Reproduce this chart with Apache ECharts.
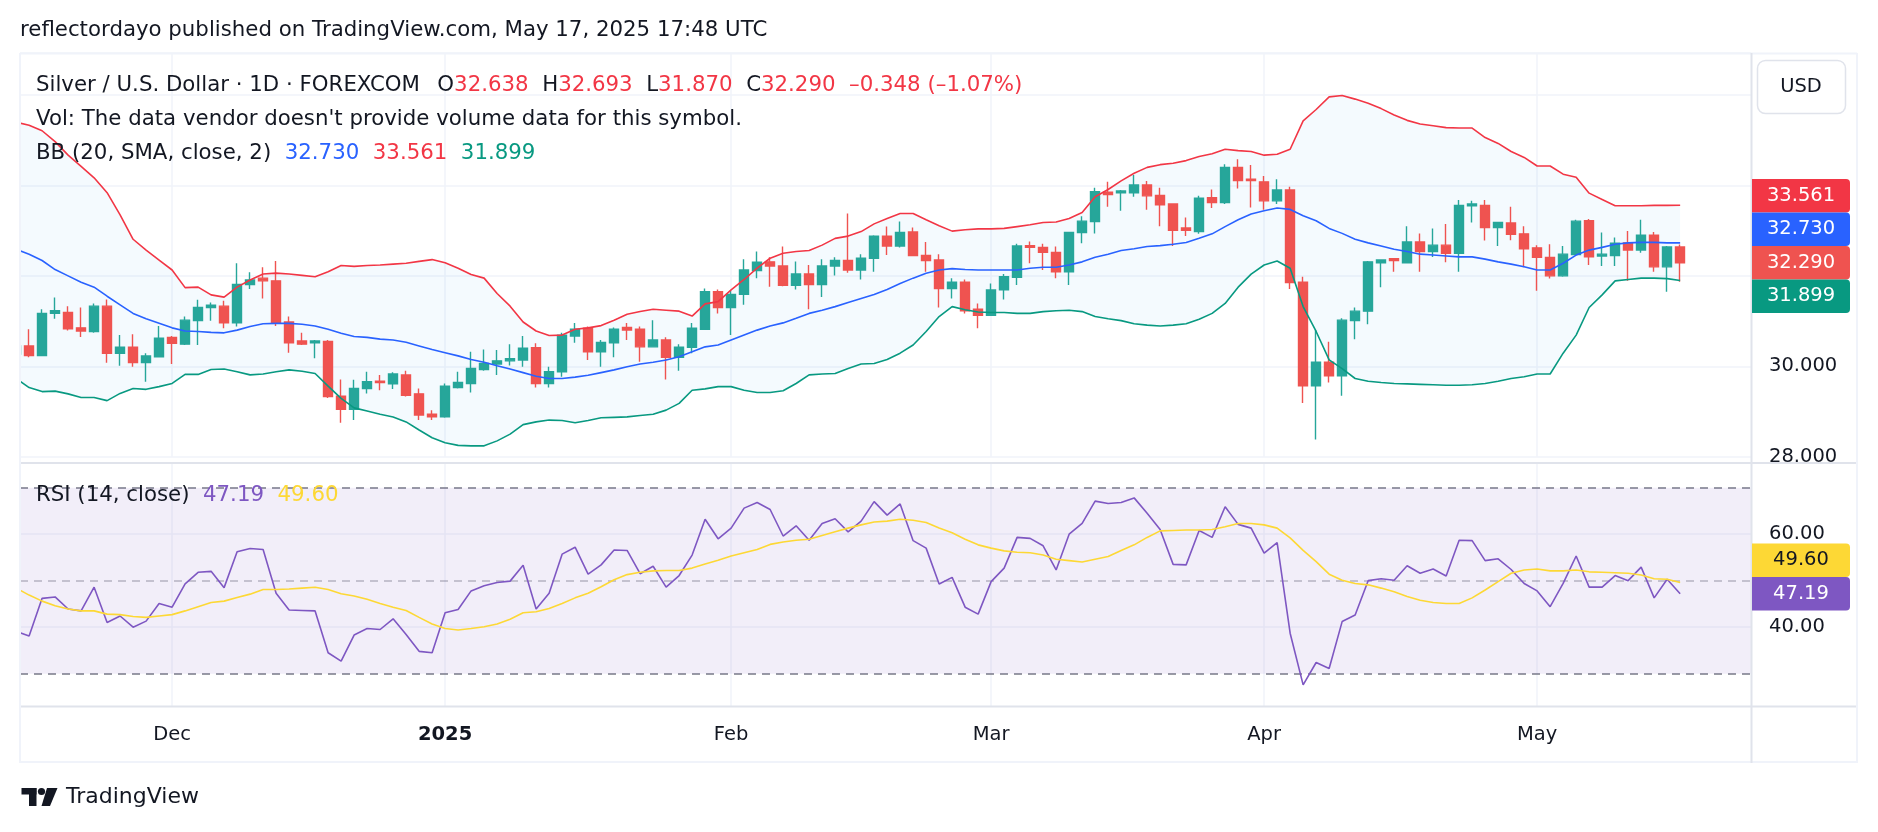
<!DOCTYPE html>
<html>
<head>
<meta charset="utf-8">
<title>Silver / U.S. Dollar · 1D · FOREXCOM</title>
<script src="https://cdn.jsdelivr.net/npm/echarts@6/dist/echarts.min.js"></script>
<style>
  html, body { margin: 0; padding: 0; background: #ffffff; }
  #chart { width: 1878px; height: 832px; }
</style>
</head>
<body>
<div id="chart"></div>
<script>
// daily bars, 14 Nov 2024 .. 16 May 2025 : [open, high, low, close]
const candles = [
  [30.27, 30.60, 30.10, 30.45], [30.45, 30.82, 30.20, 30.24], [30.24, 31.26, 30.22, 31.17], [31.17, 31.52, 31.05, 31.23],
  [31.19, 31.33, 30.79, 30.83], [30.85, 31.30, 30.65, 30.78], [30.77, 31.39, 30.74, 31.33], [31.33, 31.48, 30.08, 30.29],
  [30.29, 30.69, 30.01, 30.42], [30.42, 30.71, 29.99, 30.08], [30.08, 30.29, 29.66, 30.23], [30.21, 30.89, 30.20, 30.62],
  [30.64, 30.67, 30.05, 30.51], [30.49, 31.10, 30.47, 31.02], [31.01, 31.47, 30.47, 31.30], [31.30, 31.41, 31.01, 31.35],
  [31.33, 31.45, 30.84, 30.96], [30.96, 32.28, 30.88, 31.81], [31.81, 32.08, 31.71, 31.91], [31.95, 32.19, 31.50, 31.89],
  [31.89, 32.33, 30.89, 30.95], [30.98, 31.10, 30.30, 30.52], [30.56, 30.74, 30.47, 30.49], [30.52, 30.58, 30.18, 30.56],
  [30.55, 30.58, 29.30, 29.33], [29.34, 29.71, 28.75, 29.05], [29.05, 29.70, 28.81, 29.51], [29.51, 29.88, 29.40, 29.66],
  [29.67, 29.81, 29.47, 29.64], [29.61, 29.87, 29.50, 29.83], [29.81, 29.90, 29.33, 29.36], [29.39, 29.51, 28.81, 28.92],
  [28.94, 29.03, 28.81, 28.88], [28.88, 29.62, 28.86, 29.56], [29.53, 29.88, 29.51, 29.64], [29.62, 30.32, 29.42, 29.95],
  [29.93, 30.37, 29.90, 30.06], [30.05, 30.36, 29.81, 30.12], [30.12, 30.49, 30.02, 30.17], [30.14, 30.67, 29.99, 30.40],
  [30.41, 30.51, 29.53, 29.62], [29.62, 29.99, 29.53, 29.88], [29.88, 30.74, 29.77, 30.69], [30.67, 30.96, 30.52, 30.82],
  [30.84, 30.88, 30.14, 30.32], [30.32, 30.58, 29.99, 30.53], [30.52, 30.86, 30.20, 30.82], [30.86, 30.96, 30.58, 30.80],
  [30.82, 30.88, 30.10, 30.43], [30.43, 31.02, 30.42, 30.58], [30.58, 30.64, 29.71, 30.20], [30.20, 30.49, 29.90, 30.42],
  [30.42, 30.96, 30.29, 30.84], [30.82, 31.72, 30.80, 31.65], [31.65, 31.70, 31.17, 31.30], [31.30, 31.67, 30.69, 31.59],
  [31.59, 32.37, 31.36, 32.13], [32.12, 32.54, 31.95, 32.30], [32.31, 32.41, 31.76, 32.22], [32.22, 32.65, 31.77, 31.79],
  [31.79, 32.32, 31.70, 32.04], [32.04, 32.24, 31.26, 31.81], [31.81, 32.37, 31.53, 32.22], [32.22, 32.41, 32.01, 32.34],
  [32.34, 33.38, 32.07, 32.13], [32.13, 32.48, 31.92, 32.39], [32.39, 32.90, 32.09, 32.88], [32.88, 33.09, 32.46, 32.66],
  [32.66, 33.20, 32.63, 32.96], [32.97, 33.07, 32.44, 32.45], [32.45, 32.75, 32.09, 32.34], [32.35, 32.48, 31.30, 31.72],
  [31.72, 31.95, 31.50, 31.86], [31.86, 31.92, 31.17, 31.23], [31.26, 31.39, 30.84, 31.13], [31.13, 31.83, 31.11, 31.69],
  [31.69, 32.04, 31.48, 31.98], [31.97, 32.71, 31.80, 32.66], [32.67, 32.76, 32.28, 32.63], [32.63, 32.71, 32.13, 32.52],
  [32.52, 32.65, 31.95, 32.09], [32.09, 32.97, 31.80, 32.96], [32.96, 33.32, 32.72, 33.21], [33.20, 33.95, 32.94, 33.86],
  [33.85, 34.08, 33.53, 33.80], [33.84, 33.90, 33.44, 33.88], [33.84, 34.23, 33.75, 34.01], [34.01, 34.10, 33.46, 33.77],
  [33.78, 33.95, 33.10, 33.57], [33.59, 33.60, 32.66, 33.01], [33.06, 33.29, 32.88, 33.01], [32.98, 33.77, 32.93, 33.72],
  [33.73, 33.91, 33.50, 33.62], [33.62, 34.47, 33.59, 34.40], [34.40, 34.58, 33.93, 34.11], [34.14, 34.45, 33.51, 34.11],
  [34.08, 34.21, 33.46, 33.66], [33.66, 34.14, 33.59, 33.90], [33.90, 33.97, 31.71, 31.85], [31.86, 31.98, 29.19, 29.57],
  [29.57, 30.80, 28.38, 30.09], [30.09, 30.54, 29.64, 29.79], [29.79, 31.06, 29.35, 31.02], [31.01, 31.30, 30.60, 31.22],
  [31.22, 32.33, 30.93, 32.31], [32.29, 32.37, 31.75, 32.35], [32.38, 32.39, 32.09, 32.34], [32.29, 33.10, 32.28, 32.75],
  [32.75, 32.94, 32.09, 32.54], [32.54, 33.05, 32.42, 32.68], [32.68, 33.15, 32.30, 32.50], [32.50, 33.68, 32.09, 33.56],
  [33.55, 33.66, 33.18, 33.59], [33.56, 33.68, 32.78, 33.07], [33.07, 33.19, 32.66, 33.18], [33.17, 33.53, 32.79, 32.92],
  [32.93, 33.10, 32.19, 32.60], [32.62, 32.68, 31.67, 32.41], [32.41, 32.70, 31.94, 32.00], [32.00, 32.66, 31.98, 32.48],
  [32.47, 33.24, 32.45, 33.21], [33.22, 33.26, 32.24, 32.42], [32.44, 32.96, 32.22, 32.48], [32.45, 32.85, 32.22, 32.72],
  [32.73, 32.99, 31.89, 32.57], [32.57, 33.24, 32.51, 32.90], [32.90, 32.97, 32.09, 32.20], [32.20, 32.66, 31.65, 32.638],
  [32.638, 32.693, 31.870, 32.290]
];

// Bollinger Bands (20, SMA, close, 2), read per bar
const bbUpper = [
  35.40, 35.33, 35.21, 34.97, 34.67, 34.42, 34.17, 33.84, 33.35, 32.81, 32.57, 32.35, 32.13, 31.74, 31.75, 31.58,
  31.53, 31.75, 31.91, 32.04, 32.06, 32.04, 32.01, 31.98, 32.09, 32.23, 32.21, 32.23, 32.24, 32.26, 32.28, 32.32,
  32.36, 32.29, 32.17, 32.03, 31.95, 31.61, 31.33, 30.98, 30.78, 30.68, 30.69, 30.82, 30.85, 30.90, 31.02, 31.15,
  31.21, 31.26, 31.24, 31.22, 31.11, 31.38, 31.43, 31.69, 31.92, 32.17, 32.39, 32.50, 32.54, 32.56, 32.68, 32.83,
  32.88, 32.98, 33.15, 33.27, 33.38, 33.38, 33.24, 33.11, 32.99, 33.02, 33.04, 33.04, 33.05, 33.09, 33.13, 33.18,
  33.19, 33.27, 33.40, 33.75, 33.91, 34.10, 34.27, 34.40, 34.46, 34.49, 34.55, 34.64, 34.70, 34.80, 34.77, 34.75,
  34.67, 34.69, 34.80, 35.43, 35.68, 35.96, 35.99, 35.91, 35.82, 35.70, 35.56, 35.44, 35.36, 35.32, 35.28, 35.27,
  35.27, 35.06, 34.93, 34.75, 34.62, 34.43, 34.43, 34.25, 34.18, 33.83, 33.69, 33.55, 33.55, 33.55, 33.56, 33.56,
  33.561
];
const bbBasis = [
  32.59, 32.48, 32.34, 32.14, 32.00, 31.86, 31.75, 31.55, 31.36, 31.17, 31.05, 30.95, 30.85, 30.78, 30.77, 30.75,
  30.74, 30.80, 30.88, 30.94, 30.95, 30.95, 30.93, 30.89, 30.82, 30.73, 30.66, 30.64, 30.60, 30.58, 30.53, 30.45,
  30.37, 30.30, 30.23, 30.15, 30.09, 30.01, 29.94, 29.86, 29.78, 29.73, 29.73, 29.76, 29.80, 29.86, 29.92, 29.99,
  30.05, 30.09, 30.14, 30.21, 30.32, 30.43, 30.47, 30.58, 30.69, 30.80, 30.89, 30.96, 31.06, 31.17, 31.24, 31.32,
  31.41, 31.50, 31.59, 31.70, 31.83, 31.95, 32.06, 32.13, 32.16, 32.14, 32.13, 32.13, 32.13, 32.13, 32.17, 32.19,
  32.19, 32.24, 32.31, 32.41, 32.48, 32.56, 32.60, 32.65, 32.67, 32.70, 32.74, 32.83, 32.93, 33.09, 33.24, 33.37,
  33.44, 33.50, 33.47, 33.33, 33.22, 33.05, 32.94, 32.81, 32.73, 32.66, 32.59, 32.54, 32.48, 32.46, 32.44, 32.42,
  32.42, 32.37, 32.31, 32.26, 32.20, 32.13, 32.13, 32.28, 32.46, 32.57, 32.63, 32.70, 32.73, 32.74, 32.74, 32.73,
  32.730
];
const bbLower = [
  29.73, 29.53, 29.44, 29.45, 29.39, 29.31, 29.31, 29.24, 29.40, 29.51, 29.49, 29.55, 29.62, 29.82, 29.82, 29.93,
  29.94, 29.88, 29.81, 29.83, 29.88, 29.92, 29.89, 29.84, 29.56, 29.29, 29.08, 29.01, 28.94, 28.88, 28.77, 28.59,
  28.42, 28.31, 28.25, 28.24, 28.24, 28.35, 28.50, 28.71, 28.77, 28.81, 28.80, 28.75, 28.80, 28.86, 28.87, 28.88,
  28.91, 28.94, 29.03, 29.18, 29.47, 29.50, 29.55, 29.55, 29.47, 29.42, 29.42, 29.46, 29.62, 29.81, 29.83, 29.84,
  29.95, 30.05, 30.06, 30.15, 30.29, 30.47, 30.77, 31.10, 31.32, 31.25, 31.20, 31.19, 31.19, 31.17, 31.17, 31.21,
  31.23, 31.24, 31.21, 31.10, 31.05, 31.01, 30.94, 30.91, 30.89, 30.91, 30.94, 31.04, 31.17, 31.39, 31.75, 32.04,
  32.24, 32.33, 32.17, 31.32, 30.77, 30.14, 29.95, 29.73, 29.67, 29.64, 29.62, 29.61, 29.60, 29.59, 29.58, 29.58,
  29.59, 29.62, 29.67, 29.73, 29.77, 29.83, 29.83, 30.29, 30.69, 31.30, 31.58, 31.89, 31.92, 31.95, 31.95, 31.94,
  31.899
];

// RSI (14, close) and its moving average
const rsi = [
  39.1, 38.1, 46.2, 46.5, 43.9, 43.5, 48.6, 41.0, 42.4, 40.0, 41.3, 45.1, 44.3, 49.3, 51.8, 52.0,
  48.5, 56.2, 56.9, 56.7, 47.3, 43.7, 43.6, 43.5, 34.5, 32.7, 38.3, 39.7, 39.5, 41.8, 38.4, 34.8,
  34.5, 43.1, 43.8, 47.8, 48.9, 49.6, 49.9, 53.3, 43.9, 47.3, 55.7, 57.2, 51.4, 53.4, 56.6, 56.5,
  51.5, 53.1, 48.6, 51.1, 55.5, 63.2, 59.0, 61.3, 65.6, 66.8, 65.3, 59.6, 61.8, 58.7, 62.3, 63.3,
  60.5, 62.8, 67.0, 64.1, 66.5, 58.6, 57.0, 49.3, 50.7, 44.3, 42.8, 49.8, 52.7, 59.3, 59.1, 57.5,
  52.3, 60.0, 62.3, 67.1, 66.6, 66.8, 67.8, 64.5, 61.0, 53.5, 53.4, 60.8, 59.3, 65.9, 62.1, 61.3,
  55.9, 58.2, 38.7, 27.6, 32.4, 31.1, 41.2, 42.6, 50.0, 50.4, 50.1, 53.2, 51.6, 52.5, 51.0, 58.7,
  58.6, 54.3, 54.7, 52.4, 49.4, 47.8, 44.4, 49.4, 55.3, 48.6, 48.6, 51.1, 50.0, 52.9, 46.3, 50.3,
  47.19
];
const rsiMa = [
  48.4, 46.9, 45.6, 44.6, 43.9, 43.5, 43.5, 42.8, 42.7, 42.3, 42.1, 42.4, 42.7, 43.5, 44.4, 45.3,
  45.6, 46.4, 47.1, 48.1, 48.1, 48.2, 48.4, 48.6, 48.1, 47.2, 46.7, 46.0, 45.1, 44.3, 43.6, 42.1,
  40.7, 39.7, 39.4, 39.7, 40.1, 40.7, 41.7, 43.1, 43.3, 44.0, 45.1, 46.3, 47.3, 48.7, 50.2, 51.3,
  51.8, 52.1, 52.2, 52.2, 52.7, 53.6, 54.4, 55.3, 56.0, 56.7, 57.8, 58.3, 58.7, 58.9, 59.7, 60.5,
  61.3, 62.0, 62.6, 62.8, 63.2, 63.0, 62.5, 61.3, 60.3, 58.9, 57.7, 57.0, 56.4, 56.1, 56.0, 55.5,
  54.6, 54.3, 54.0, 54.6, 55.2, 56.5, 57.7, 59.3, 60.7, 60.8, 60.9, 60.9, 61.0, 61.6, 62.3, 62.3,
  62.0, 61.3, 59.2, 56.5, 54.1, 51.4, 50.1, 49.4, 49.1, 48.4, 47.6, 46.6, 45.8, 45.3, 45.1, 45.1,
  46.3, 48.0, 49.8, 51.6, 52.3, 52.5, 52.1, 52.1, 52.3, 51.9, 51.8, 51.7, 51.6, 51.2, 50.4, 50.3,
  49.60
];

// first bar of each month (bar index) and its axis label
const monthTicks = [12, 33, 55, 75, 96, 117];
const monthLabels = ['Dec', '2025', 'Feb', 'Mar', 'Apr', 'May'];
const priceLabels = [28, 30];
const rsiLabels = [40, 60];

const FONT = '"DejaVu Sans", sans-serif';
const TXT = '#131722';
const UP = '#26a69a', DOWN = '#ef5350';
const C_UPPER = '#F23645', C_BASIS = '#2962FF', C_LOWER = '#089981';
const C_RSI = '#7E57C2', C_MA = '#FDD835';
const GRID = '#f0f3fa', BORDER = '#e0e3eb';

const X_MIN = 0.3, X_MAX = 133.45;

const chart = echarts.init(document.getElementById('chart'));

const pairs = arr => arr.map((v, i) => [i, v]);
const vLines = monthTicks.map(v => ({ xAxis: v }));

function line(name, arr, color, axis, z, extra) {
  return Object.assign({
    name: name, type: 'line', xAxisIndex: axis, yAxisIndex: axis,
    data: pairs(arr), showSymbol: false, silent: true, z: z,
    lineStyle: { color: color, width: 1.6 }
  }, extra || {});
}

const last = candles[candles.length - 1];
const prevClose = candles[candles.length - 2][3];
const chg = last[3] - prevClose;
const neg = s => s.replace('-', '\u2013');

const option = {
  animation: false,
  backgroundColor: '#ffffff',
  textStyle: { fontFamily: FONT },
  grid: [
    { left: 20, right: 127, top: 53, height: 403.7 },
    { left: 20, right: 127, top: 463, height: 243 }
  ],
  xAxis: [
    { type: 'value', gridIndex: 0, min: X_MIN, max: X_MAX, show: false },
    {
      type: 'value', gridIndex: 1, min: X_MIN, max: X_MAX,
      axisLine: { show: false }, axisTick: { show: false }, splitLine: { show: false },
      axisLabel: {
        customValues: monthTicks, margin: 19, color: TXT, fontSize: 19.5, fontFamily: FONT,
        formatter: function (v) {
          const k = monthTicks.indexOf(v);
          if (k < 0) return '';
          return monthLabels[k] === '2025' ? '{b|' + monthLabels[k] + '}' : monthLabels[k];
        },
        rich: { b: { fontWeight: 'bold', fontSize: 19.5, fontFamily: FONT, color: TXT } }
      }
    }
  ],
  yAxis: [
    {
      type: 'value', gridIndex: 0, position: 'right', min: 28, max: 36.93, interval: 2,
      axisLine: { show: false }, axisTick: { show: false },
      splitLine: { show: true, lineStyle: { color: GRID, width: 1.5 } },
      axisLabel: { customValues: priceLabels, formatter: v => v.toFixed(3), color: TXT, fontSize: 19.5, fontFamily: FONT, margin: 18 }
    },
    {
      type: 'value', gridIndex: 1, position: 'right', min: 23.05, max: 75.3,
      axisLine: { show: false }, axisTick: { show: false }, splitLine: { show: false },
      axisLabel: { customValues: rsiLabels, formatter: v => v.toFixed(2), color: TXT, fontSize: 19.5, fontFamily: FONT, margin: 18 }
    }
  ],
  series: [
    {
      name: 'bbFill', type: 'custom', xAxisIndex: 0, yAxisIndex: 0, z: 1, silent: true,
      data: [[1, 30]],
      renderItem: function (params, api) {
        const pts = [];
        for (let i = 0; i < bbUpper.length; i++) pts.push(api.coord([i, bbUpper[i]]));
        for (let i = bbLower.length - 1; i >= 0; i--) pts.push(api.coord([i, bbLower[i]]));
        return { type: 'polygon', shape: { points: pts }, style: { fill: 'rgba(33,150,243,0.05)' } };
      }
    },
    {
      name: 'XAGUSD', type: 'candlestick', xAxisIndex: 0, yAxisIndex: 0, z: 3, silent: true,
      barWidth: 10,
      encode: { x: 0, y: [1, 2, 3, 4] },
      data: candles.map((c, i) => [i, c[0], c[3], c[2], c[1]]),
      itemStyle: { color: UP, color0: DOWN, borderColor: UP, borderColor0: DOWN, borderWidth: 1.4 }
    },
    line('BB basis', bbBasis, C_BASIS, 0, 4, {
      markLine: {
        silent: true, symbol: 'none', z: 0, animation: false, label: { show: false },
        lineStyle: { color: GRID, width: 1.5, type: 'solid' },
        data: vLines
      }
    }),
    line('BB upper', bbUpper, C_UPPER, 0, 4),
    line('BB lower', bbLower, C_LOWER, 0, 4),
    line('RSI', rsi, C_RSI, 1, 3, {
      markArea: {
        silent: true, z: 1,
        itemStyle: { color: 'rgba(126,87,194,0.1)' },
        data: [[{ yAxis: 30 }, { yAxis: 70 }]]
      },
      markLine: {
        silent: true, symbol: 'none', z: 0, animation: false, label: { show: false },
        lineStyle: { color: GRID, width: 1.5, type: 'solid' },
        data: vLines.concat(rsiLabels.map(v => ({ yAxis: v })), [
          { yAxis: 70, lineStyle: { color: '#787b86', width: 1.5, type: [8, 6] } },
          { yAxis: 50, lineStyle: { color: 'rgba(120,123,134,0.5)', width: 1.5, type: [8, 6] } },
          { yAxis: 30, lineStyle: { color: '#787b86', width: 1.5, type: [8, 6] } }
        ])
      }
    }),
    line('RSI MA', rsiMa, C_MA, 1, 3)
  ]
};

chart.setOption(option);

// right-scale value tags, stacked the way the price scale does it
function stack(tags, h) {
  const a = tags.findIndex(t => t.anchor);
  for (let k = a - 1; k >= 0; k--) tags[k].y = Math.min(tags[k].y, tags[k + 1].y - h);
  for (let k = a + 1; k < tags.length; k++) tags[k].y = Math.max(tags[k].y, tags[k - 1].y + h);
  return tags;
}
const TAG_H = 33.5;
const lastOf = a => a[a.length - 1];
const priceTags = stack([
  { v: lastOf(bbUpper), bg: C_UPPER, fg: '#ffffff', d: 3 },
  { v: lastOf(bbBasis), bg: C_BASIS, fg: '#ffffff', d: 3 },
  { v: last[3], bg: DOWN, fg: '#ffffff', d: 3, anchor: true },
  { v: lastOf(bbLower), bg: C_LOWER, fg: '#ffffff', d: 3 }
].map(t => Object.assign(t, { y: chart.convertToPixel({ yAxisIndex: 0 }, t.v) })), TAG_H);
const rsiTags = stack([
  { v: lastOf(rsiMa), bg: C_MA, fg: TXT, d: 2 },
  { v: lastOf(rsi), bg: C_RSI, fg: '#ffffff', d: 2, anchor: true }
].map(t => Object.assign(t, { y: chart.convertToPixel({ yAxisIndex: 1 }, t.v) })), TAG_H);

function textEl(text, x, y) {
  return {
    type: 'text', z: 120, silent: true,
    style: { text: text, x: x, y: y, font: '21.3px ' + FONT, fill: TXT, textVerticalAlign: 'middle', verticalAlign: 'middle' }
  };
}
function hline(x1, x2, y, color, w) {
  return { type: 'line', z: 115, silent: true, shape: { x1: x1, y1: y, x2: x2, y2: y }, style: { stroke: color, lineWidth: w } };
}
function vline(x, y1, y2, color, w) {
  return { type: 'line', z: 115, silent: true, shape: { x1: x, y1: y1, x2: x, y2: y2 }, style: { stroke: color, lineWidth: w } };
}
const richBase = { font: '21.3px ' + FONT };
const rich = {
  t: Object.assign({ fill: TXT }, richBase),
  r: Object.assign({ fill: C_UPPER }, richBase),
  b: Object.assign({ fill: C_BASIS }, richBase),
  g: Object.assign({ fill: C_LOWER }, richBase),
  p: Object.assign({ fill: C_RSI }, richBase),
  y: Object.assign({ fill: C_MA }, richBase)
};
const f3 = v => v.toFixed(3);

const elements = [
  // covers: left of the panes, and the 28.000 label below the price pane
  { type: 'rect', z: 100, silent: true, shape: { x: 0, y: 40, width: 19.5, height: 730 }, style: { fill: '#ffffff' } },
  { type: 'rect', z: 100, silent: true, shape: { x: 1752, y: 463.5, width: 104, height: 16 }, style: { fill: '#ffffff' } },
  // frame
  hline(20, 1857, 53.5, GRID, 2),
  hline(20, 1857, 463, BORDER, 2),
  hline(20, 1857, 706.5, BORDER, 2),
  hline(20, 1857, 762, GRID, 2),
  vline(20, 53, 763, GRID, 2),
  vline(1751.5, 53, 763, BORDER, 2),
  vline(1857, 53, 763, GRID, 2),
  // header
  textEl('reflectordayo published on TradingView.com, May 17, 2025 17:48 UTC', 20, 30),
  {
    type: 'text', z: 120, silent: true,
    style: {
      x: 36, y: 85, font: '21.3px ' + FONT, fill: TXT, textVerticalAlign: 'middle', verticalAlign: 'middle', rich: rich,
      text: '{t|Silver / U.S. Dollar \u00b7 1D \u00b7 FOREXCOM} \u2002{t|O}{r|' + f3(last[0]) + '}  {t|H}{r|' + f3(last[1]) +
        '}  {t|L}{r|' + f3(last[2]) + '}  {t|C}{r|' + f3(last[3]) + '}  {r|' + neg(chg.toFixed(3)) +
        ' (' + neg((chg / prevClose * 100).toFixed(2)) + '%)}'
    }
  },
  textEl("Vol: The data vendor doesn't provide volume data for this symbol.", 36, 119),
  {
    type: 'text', z: 120, silent: true,
    style: {
      x: 36, y: 153, font: '21.3px ' + FONT, fill: TXT, textVerticalAlign: 'middle', verticalAlign: 'middle', rich: rich,
      text: '{t|BB (20, SMA, close, 2)}  {b|' + f3(lastOf(bbBasis)) + '}  {r|' + f3(lastOf(bbUpper)) + '}  {g|' + f3(lastOf(bbLower)) + '}'
    }
  },
  {
    type: 'text', z: 120, silent: true,
    style: {
      x: 36, y: 495, font: '21.3px ' + FONT, fill: TXT, textVerticalAlign: 'middle', verticalAlign: 'middle', rich: rich,
      text: '{t|RSI (14, close)}  {p|' + lastOf(rsi).toFixed(2) + '}  {y|' + lastOf(rsiMa).toFixed(2) + '}'
    }
  },
  // currency button
  { type: 'rect', z: 120, silent: true, shape: { x: 1757.5, y: 60.5, width: 88, height: 53, r: 8 }, style: { fill: '#ffffff', stroke: BORDER, lineWidth: 1.5 } },
  {
    type: 'text', z: 121, silent: true,
    style: { text: 'USD', x: 1801, y: 87, font: '19.5px ' + FONT, fill: TXT, textAlign: 'center', align: 'center', textVerticalAlign: 'middle', verticalAlign: 'middle' }
  },
  // TradingView logo
  { type: 'rect', z: 120, silent: true, shape: { x: 21.5, y: 788, width: 15, height: 6.5 }, style: { fill: TXT } },
  { type: 'rect', z: 120, silent: true, shape: { x: 29, y: 788, width: 7.5, height: 18 }, style: { fill: TXT } },
  { type: 'circle', z: 120, silent: true, shape: { cx: 41.5, cy: 791.5, r: 3.6 }, style: { fill: TXT } },
  { type: 'polygon', z: 120, silent: true, shape: { points: [[47, 788], [57.5, 788], [50, 806], [41.5, 806]] }, style: { fill: TXT } },
  {
    type: 'text', z: 120, silent: true,
    style: { text: 'TradingView', x: 66, y: 797, font: '22px ' + FONT, fill: TXT, textVerticalAlign: 'middle', verticalAlign: 'middle' }
  }
];

priceTags.concat(rsiTags).forEach(function (t) {
  elements.push({
    type: 'rect', z: 125, silent: true,
    shape: { x: 1752, y: t.y - TAG_H / 2, width: 98, height: TAG_H, r: [0, 4, 4, 0] },
    style: { fill: t.bg }
  });
  elements.push({
    type: 'text', z: 126, silent: true,
    style: {
      text: t.v.toFixed(t.d), x: 1801, y: t.y, font: '19.5px ' + FONT, fill: t.fg,
      textAlign: 'center', align: 'center', textVerticalAlign: 'middle', verticalAlign: 'middle'
    }
  });
});

chart.setOption({ graphic: { elements: elements } });
</script>
</body>
</html>
